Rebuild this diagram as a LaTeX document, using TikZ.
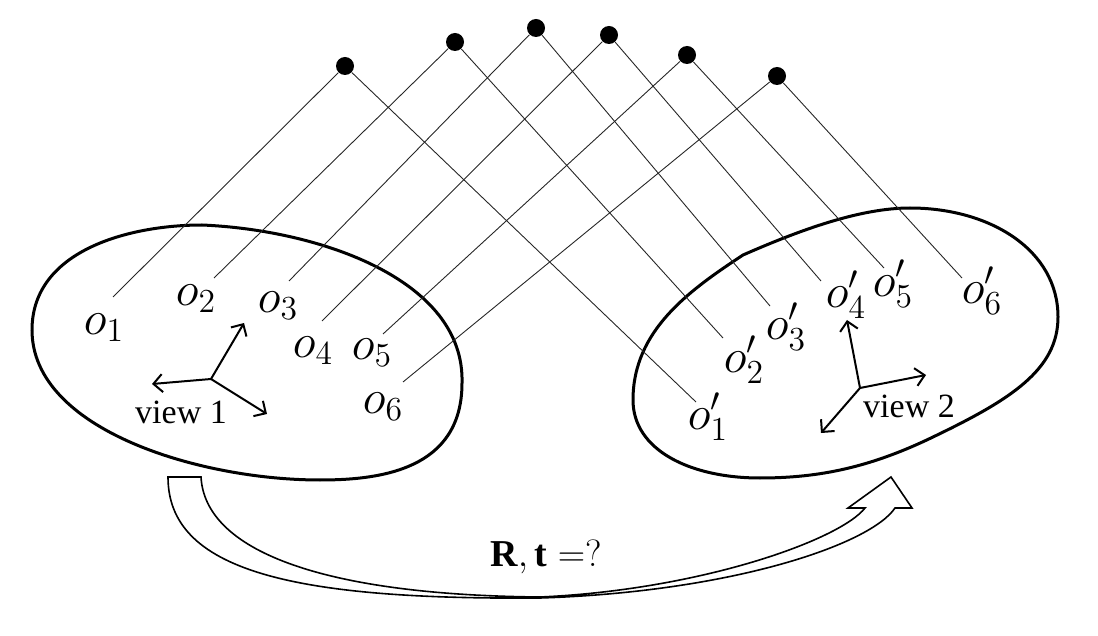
\documentclass[tikz,border=0pt]{standalone}
\usepackage{fix-cm}
\usepackage{fontspec}
\setmainfont{Liberation Serif}
\usetikzlibrary{arrows.meta}
\tikzset{
  blob/.style={line width=1.5pt, draw=black},
  match/.style={line width=0.45pt, black!85},
  landmark/.style={circle, fill=black, inner sep=0pt, minimum size=9pt},
  obj/.style={inner sep=0pt, font=\fontsize{24}{26}\selectfont},
  axis/.style={-{Straight Barb[length=4.5pt,width=9pt]}, line width=1pt},
  viewlbl/.style={inner sep=0pt, font=\fontsize{17}{19}\selectfont},
  motion/.style={line width=0.8pt, draw=black, fill=white, line join=miter},
}

\begin{document}
\begin{tikzpicture}[x=0.5pt, y=-0.5pt]
\useasboundingbox (0,0) rectangle (1098,636);

% ===================== VIEW 1 =====================
\draw[blob] (202,225) .. controls (320,230) and (465,280) .. (462,383)
  .. controls (462,470) and (380,480) .. (320,480)
  .. controls (200,480) and (32,430) .. (32,330)
  .. controls (32,250) and (130,225) .. cycle;

\coordinate (a1) at (113,297);
\coordinate (a2) at (214,278);
\coordinate (a3) at (289,281);
\coordinate (a4) at (322,321);
\coordinate (a5) at (383,334);
\coordinate (a6) at (403,382);

\node[obj] (o1) at (104,328) {$o_1$};
\node[obj] (o2) at (196,299) {$o_2$};
\node[obj] (o3) at (278,306) {$o_3$};
\node[obj] (o4) at (313,351) {$o_4$};
\node[obj] (o5) at (372,353) {$o_5$};
\node[obj] (o6) at (383,407) {$o_6$};

\coordinate (c1) at (211,379);
\coordinate (c1x) at (152,384);
\coordinate (c1y) at (244,323);
\coordinate (c1z) at (267,414);
\draw[axis] (c1) -- (c1x);
\draw[axis] (c1) -- (c1y);
\draw[axis] (c1) -- (c1z);
\node[viewlbl] (v1) at (181,412) {view 1};

% ===================== VIEW 2 =====================
\draw[blob] (743,255) .. controls (800,230) and (860,208) .. (910,208)
  .. controls (990,208) and (1058,250) .. (1058,317)
  .. controls (1058,370) and (1010,400) .. (933,437)
  .. controls (871,467) and (820,478) .. (760,478)
  .. controls (690,478) and (633,450) .. (633,400)
  .. controls (633,330) and (690,290) .. cycle;

\coordinate (b1) at (696,402);
\coordinate (b2) at (723,338);
\coordinate (b3) at (770,306);
\coordinate (b4) at (821,281);
\coordinate (b5) at (884,268);
\coordinate (b6) at (962,278);

\node[obj] (q1) at (708,417) {$o'_1$};
\node[obj] (q2) at (744,360) {$o'_2$};
\node[obj] (q3) at (786,327) {$o'_3$};
\node[obj] (q4) at (846,295) {$o'_4$};
\node[obj] (q5) at (893,284) {$o'_5$};
\node[obj] (q6) at (982,291) {$o'_6$};

\coordinate (c2) at (860,388);
\coordinate (c2x) at (847,320);
\coordinate (c2y) at (926,375);
\coordinate (c2z) at (821,433);
\draw[axis] (c2) -- (c2x);
\draw[axis] (c2) -- (c2y);
\draw[axis] (c2) -- (c2z);
\node[viewlbl] (v2) at (909,406) {view 2};

% ===================== LANDMARKS =====================
\node[landmark] (p1) at (345,66) {};
\node[landmark] (p2) at (455,42) {};
\node[landmark] (p3) at (536,28) {};
\node[landmark] (p4) at (609,35) {};
\node[landmark] (p5) at (687,55) {};
\node[landmark] (p6) at (777,76) {};

\foreach \i in {1,...,6}
  \draw[match] (a\i) -- (p\i) -- (b\i);

% ===================== MOTION =====================
\draw[motion] (168,477) -- (201,477)
  .. controls (205,550) and (320,595) .. (540,597)
  .. controls (700,590) and (840,540) .. (865,508)
  -- (848,508) -- (891,477) -- (912,508) -- (895,508)
  .. controls (870,545) and (730,592) .. (540,598)
  .. controls (290,600) and (168,570) .. (168,477) -- cycle;
\node[inner sep=0pt, font=\fontsize{19}{21}\selectfont] (rt) at (546,557)
  {$\mathbf{R},\mathbf{t}=?$};

\end{tikzpicture}
\end{document}
